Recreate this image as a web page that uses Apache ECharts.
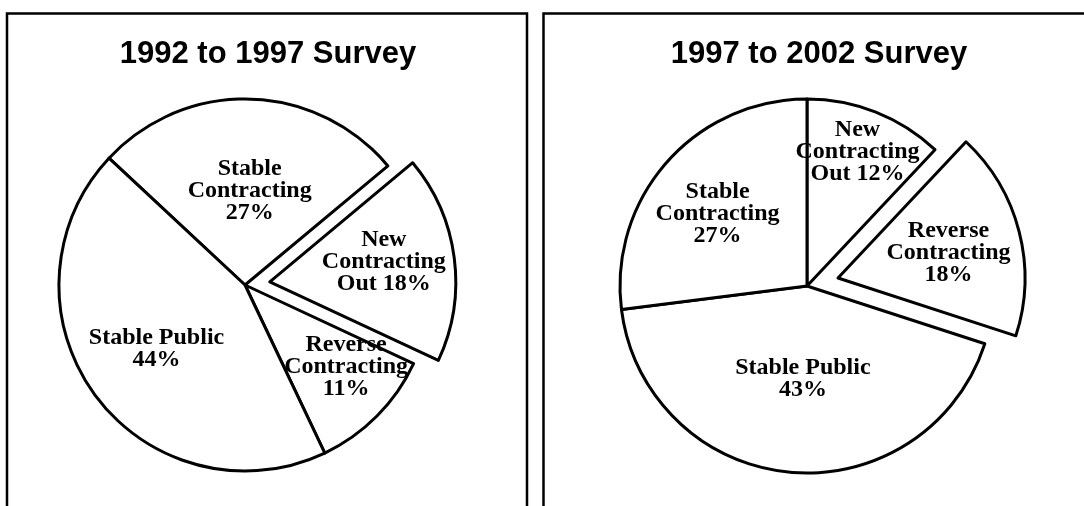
<!DOCTYPE html>
<html>
<head>
<meta charset="utf-8">
<script src="https://cdn.jsdelivr.net/npm/echarts@6/dist/echarts.min.js"></script>
<style>
html, body { margin: 0; padding: 0; background: #fff; }
#chart { width: 1084px; height: 506px; }
</style>
</head>
<body>
<div id="chart"></div>
<script>
// ---- data ----
var titles = ['1992 to 1997 Survey', '1997 to 2002 Survey'];
var categories1 = ['Stable Contracting', 'New Contracting Out', 'Reverse Contracting', 'Stable Public'];
var values1 = [27, 18, 11, 44];
var categories2 = ['New Contracting Out', 'Reverse Contracting', 'Stable Public', 'Stable Contracting'];
var values2 = [12, 18, 43, 27];
var exploded1 = 'New Contracting Out';
var exploded2 = 'Reverse Contracting';

// how each category name is broken into lines in the label
var labelPrefix = {
  'Stable Contracting': 'Stable\nContracting\n',
  'New Contracting Out': 'New\nContracting\nOut ',
  'Reverse Contracting': 'Reverse\nContracting\n',
  'Stable Public': 'Stable Public\n'
};

// label nudges (layout only)
var shift1 = [[2, 2], [21, 0], [33, 14], [-11, 7]];
var shift2 = [[15, -44], [17, 14], [5, -3], [-17, -8]];

function buildData(cats, vals, exploded) {
  return cats.map(function (c, i) {
    return { name: c, value: vals[i], selected: c === exploded };
  });
}

var pieStyle = { color: '#ffffff', borderColor: '#000000', borderWidth: 3 };
var labelStyle = {
  show: true,
  position: 'inside',
  fontFamily: '"Liberation Serif", "Times New Roman", serif',
  fontWeight: 'bold',
  fontSize: 24,
  lineHeight: 22,
  color: '#000000',
  formatter: function (p) { return labelPrefix[p.name] + p.value + '%'; }
};

function makePie(data, center, radius, startAngle, offset, shifts) {
  return {
    type: 'pie',
    center: center,
    radius: radius,
    startAngle: startAngle,
    clockwise: true,
    selectedMode: 'multiple',
    selectedOffset: offset,
    avoidLabelOverlap: false,
    itemStyle: pieStyle,
    label: labelStyle,
    labelLine: { show: false },
    emphasis: { disabled: true, scale: false },
    select: { itemStyle: pieStyle, label: labelStyle },
    labelLayout: function (params) {
      var s = shifts[params.dataIndex];
      return { dx: s[0], dy: s[1] };
    },
    data: data
  };
}

var chart = echarts.init(document.getElementById('chart'), null, { renderer: 'canvas' });
chart.setOption({
  backgroundColor: '#ffffff',
  animation: false,
  graphic: [
    { type: 'rect', shape: { x: 7, y: 13.5, width: 520, height: 520 },
      style: { fill: 'none', stroke: '#000', lineWidth: 2.5 }, z: -1 },
    { type: 'rect', shape: { x: 543.5, y: 13.5, width: 560, height: 520 },
      style: { fill: 'none', stroke: '#000', lineWidth: 2.5 }, z: -1 },
    { type: 'text', x: 268, y: 54, style: { text: titles[0], textAlign: 'center', textVerticalAlign: 'middle',
      font: 'bold 31px "Liberation Sans", Arial, sans-serif', fill: '#000' } },
    { type: 'text', x: 819, y: 54, style: { text: titles[1], textAlign: 'center', textVerticalAlign: 'middle',
      font: 'bold 31px "Liberation Sans", Arial, sans-serif', fill: '#000' } }
  ],
  series: [
    makePie(buildData(categories1, values1, exploded1), [245, 285], 186, 137, 25, shift1),
    makePie(buildData(categories2, values2, exploded2), [807, 286], 187, 90, 32, shift2)
  ]
});
</script>
</body>
</html>
